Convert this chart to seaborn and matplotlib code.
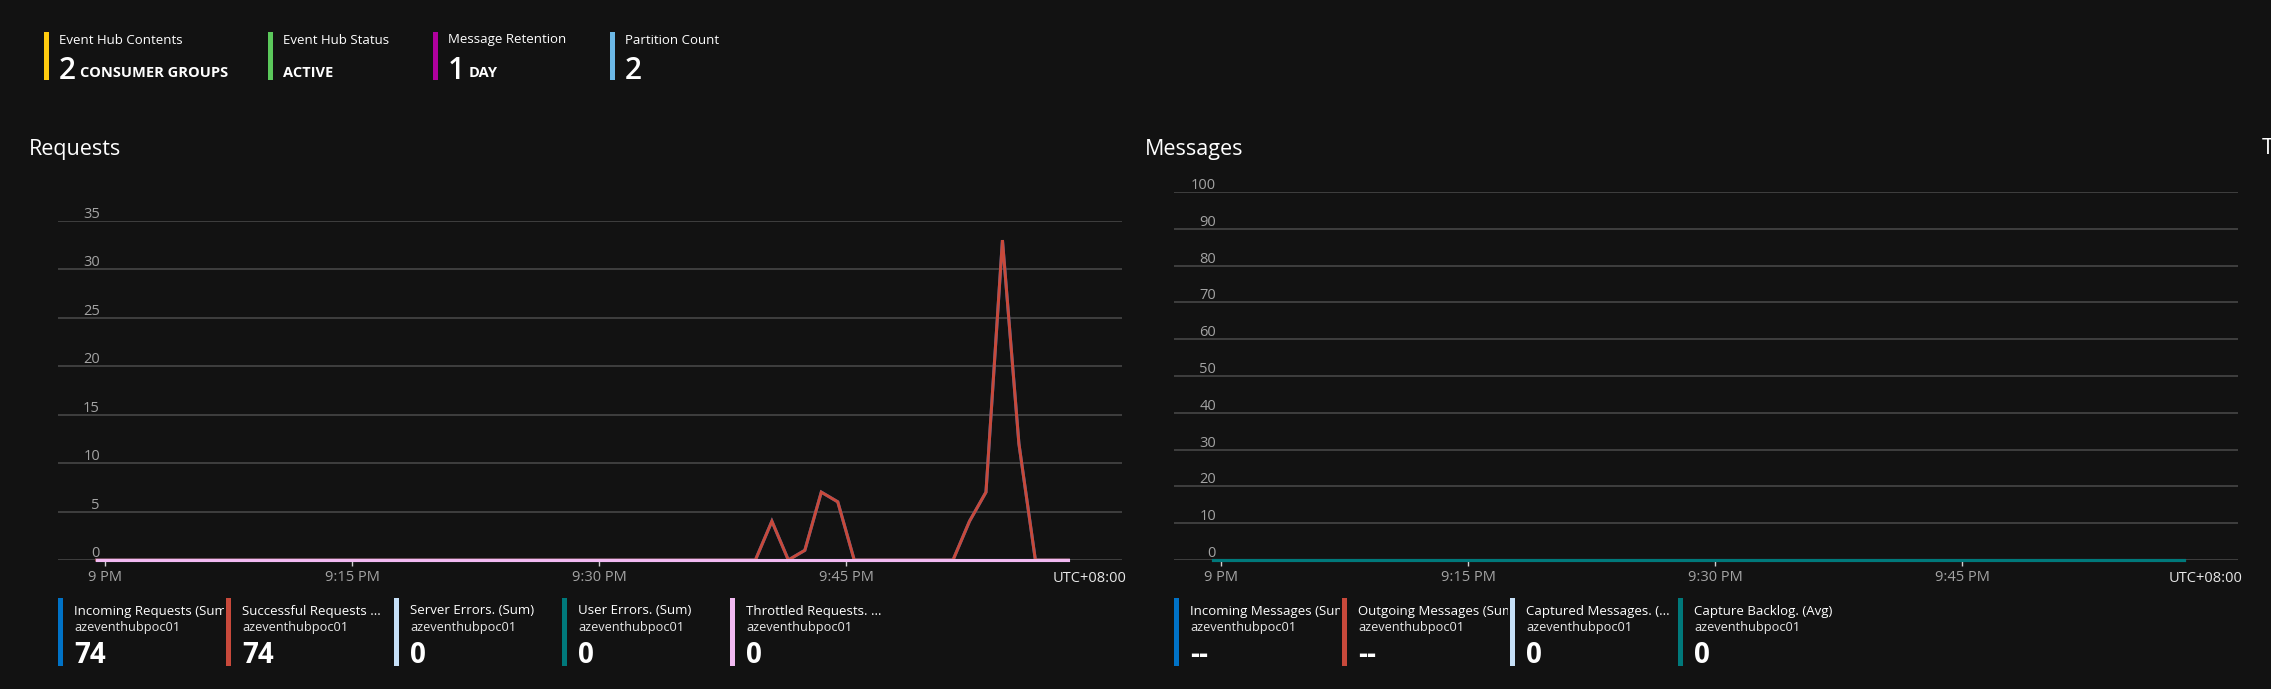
import pandas as pd
import matplotlib.pyplot as plt
import matplotlib.transforms as mtransforms
from matplotlib.patches import Rectangle
import seaborn as sns

# one point per minute, 20:59:30 .. 21:58:30
times = pd.date_range("2019-06-01 20:59:30", periods=60, freq="min")

# Requests tile (counts per minute)
successful_requests = [
    0, 0, 0, 0, 0, 0, 0, 0, 0, 0,
    0, 0, 0, 0, 0, 0, 0, 0, 0, 0,
    0, 0, 0, 0, 0, 0, 0, 0, 0, 0,
    0, 0, 0, 0, 0, 0, 0, 0, 0, 0,
    0, 4, 0, 1, 7, 6, 0, 0, 0, 0,
    0, 0, 0, 4, 7, 33, 12, 0, 0, 0,
]
incoming_requests = list(successful_requests)
server_errors = [0] * 60
user_errors = [0] * 60
throttled_requests = [0] * 60

# Messages tile
incoming_messages = None   # no data
outgoing_messages = None   # no data
captured_messages = [0] * 60
capture_backlog = [0] * 60

req_names = ["Incoming Requests (Sum)", "Successful Requests (Sum)", "Server Errors. (Sum)",
             "User Errors. (Sum)", "Throttled Requests. (Sum)"]
req_short = ["Incoming Requests (Sum)", "Successful Requests ...", "Server Errors. (Sum)",
             "User Errors. (Sum)", "Throttled Requests. ..."]
req_colors = ["#0072c6", "#c8493b", "#c6e0f8", "#00797b", "#f2baf2"]

msg_names = ["Incoming Messages (Sum)", "Outgoing Messages (Sum)", "Captured Messages. (Sum)",
             "Capture Backlog. (Avg)"]
msg_short = ["Incoming Messages (Sum)", "Outgoing Messages (Sum)", "Captured Messages. (...",
             "Capture Backlog. (Avg)"]
msg_colors = ["#0072c6", "#c8493b", "#c6e0f8", "#00797b"]

kpi_labels = ["Event Hub Contents", "Event Hub Status", "Message Retention", "Partition Count"]
kpi_numbers = ["2", "", "1", "2"]
kpi_units = ["CONSUMER GROUPS", "ACTIVE", "DAY", ""]
kpi_colors = ["#ffcb0f", "#5bc85b", "#b0009e", "#6cb8e6"]

x_ticks = ["21:00", "21:15", "21:30", "21:45"]
x_ticklabels = ["9 PM", "9:15 PM", "9:30 PM", "9:45 PM"]
req_yticks = [0, 5, 10, 15, 20, 25, 30, 35]
msg_yticks = [0, 10, 20, 30, 40, 50, 60, 70, 80, 90, 100]

# ---- style ----
BG = "#121212"
GRID = "#4b4b4b"
TICKTXT = "#a3a3a3"
plt.rcParams["font.family"] = ["Open Sans", "Noto Sans", "DejaVu Sans"]

W, H = 2271, 689
fig = plt.figure(figsize=(W / 100, H / 100), dpi=100, facecolor=BG)


def fx(px):
    return px / W


def fy(py):
    return 1 - py / H


def line_tile(left_px, top_px, series, values, colors, yticks):
    ax = fig.add_axes([fx(left_px), fy(560), fx(1064), (560 - top_px) / H])
    ax.set_facecolor(BG)
    rows = []
    for name, vals in zip(series, values):
        for t, v in zip(times, vals):
            rows.append({"time": t, "value": v, "series": name})
    df = pd.DataFrame(rows)
    sns.lineplot(data=df, x="time", y="value", hue="series", hue_order=series,
                 palette=dict(zip(series, colors)), linewidth=2.2, legend=False, ax=ax)
    for ln in ax.lines:
        ln.set_clip_on(False)
        ln.set_solid_joinstyle("miter")
    t0 = pd.Timestamp("2019-06-01 21:00")
    ax.set_xlim(t0 - pd.Timedelta(minutes=2.85), t0 + pd.Timedelta(minutes=61.76))
    ax.set_ylim(0, yticks[-1])
    ax.set_yticks(yticks)
    ax.set_yticklabels([])
    ax.tick_params(axis="y", length=0)
    ax.grid(axis="y", color=GRID, linewidth=1.1)
    ax.grid(axis="x", visible=False)
    ax.set_axisbelow(True)
    for s in ax.spines.values():
        s.set_visible(False)
    ax.set_xticks([pd.Timestamp("2019-06-01 " + t) for t in x_ticks])
    ax.set_xticklabels(x_ticklabels)
    ax.tick_params(axis="x", length=4.5, width=1, color="#d0d0d0", labelcolor=TICKTXT,
                   labelsize=10.5, pad=3)
    ax.set_xlabel("")
    ax.set_ylabel("")
    trans = mtransforms.offset_copy(ax.get_yaxis_transform(), fig=fig, x=0, y=3, units="dots")
    for v in yticks:
        ax.text(42 / 1064, v, str(v), transform=trans, ha="right", va="baseline",
                color=TICKTXT, fontsize=10.5)
    return ax


# ---- top KPI strip ----
renderer = fig.canvas.get_renderer()
kpi_x = [44, 268, 433, 610]
for x, lab, num, unit, col in zip(kpi_x, kpi_labels, kpi_numbers, kpi_units, kpi_colors):
    fig.add_artist(Rectangle((fx(x), fy(80)), fx(5), 48 / H, transform=fig.transFigure,
                             color=col, lw=0))
    fig.text(fx(x + 15), fy(40), lab, color="white", fontsize=9.5, va="center")
    ux = x + 15
    if num:
        t = fig.text(fx(x + 15), fy(79), num, color="white", fontsize=21.5,
                     fontweight="semibold", va="baseline")
        ux = t.get_window_extent(renderer).x1 + 4
    if unit:
        fig.text(fx(ux), fy(77), unit, color="white", fontsize=10.5, fontweight="bold",
                 va="baseline")

# ---- tiles ----
ax_req = line_tile(58, 220.7, req_names, [incoming_requests, successful_requests, server_errors,
                                          user_errors, throttled_requests], req_colors, req_yticks)
ax_msg = line_tile(1174, 192, msg_names[2:], [captured_messages, capture_backlog], msg_colors[2:],
                   msg_yticks)

fig.text(fx(29), fy(149), "Requests", color="white", fontsize=15.5, va="center")
fig.text(fx(1145), fy(149), "Messages", color="white", fontsize=15.5, va="center")
fig.text(fx(2262), fy(149), "T", color="white", fontsize=15.5, va="center")
fig.text(fx(1126), fy(579), "UTC+08:00", color="#e8e8e8", fontsize=10.5, ha="right", va="center")
fig.text(fx(2243), fy(579), "UTC+08:00", color="#e8e8e8", fontsize=10.5, ha="right", va="center")


def legend_row(start_px, titles, colors, values):
    n = len(titles)
    for i in range(n):
        x = start_px + i * 168
        fig.add_artist(Rectangle((fx(x), fy(666)), fx(5), 68 / H, transform=fig.transFigure,
                                 color=colors[i], lw=0))
        t = fig.text(fx(x + 16), fy(611), titles[i], color="white", fontsize=9.5, va="center")
        clip = mtransforms.Bbox.from_extents(fx(x + 10), 0, fx(x + 166), 1)
        t.set_clip_box(mtransforms.TransformedBbox(clip, fig.transFigure))
        t.set_clip_on(True)
        fig.text(fx(x + 16), fy(627), "azeventhubpoc01", color="#e6e6e6", fontsize=9.2,
                 va="center")
        fig.text(fx(x + 16), fy(663), values[i], color="white", fontsize=20,
                 fontweight="bold", va="baseline")


def total(vals):
    return "--" if vals is None else str(int(sum(vals)))


legend_row(58, req_short, req_colors,
           [total(v) for v in [incoming_requests, successful_requests, server_errors,
                               user_errors, throttled_requests]])
legend_row(1174, msg_short, msg_colors,
           [total(v) for v in [incoming_messages, outgoing_messages, captured_messages,
                               capture_backlog]])

fig.savefig("out.png", dpi=100, facecolor=BG)
